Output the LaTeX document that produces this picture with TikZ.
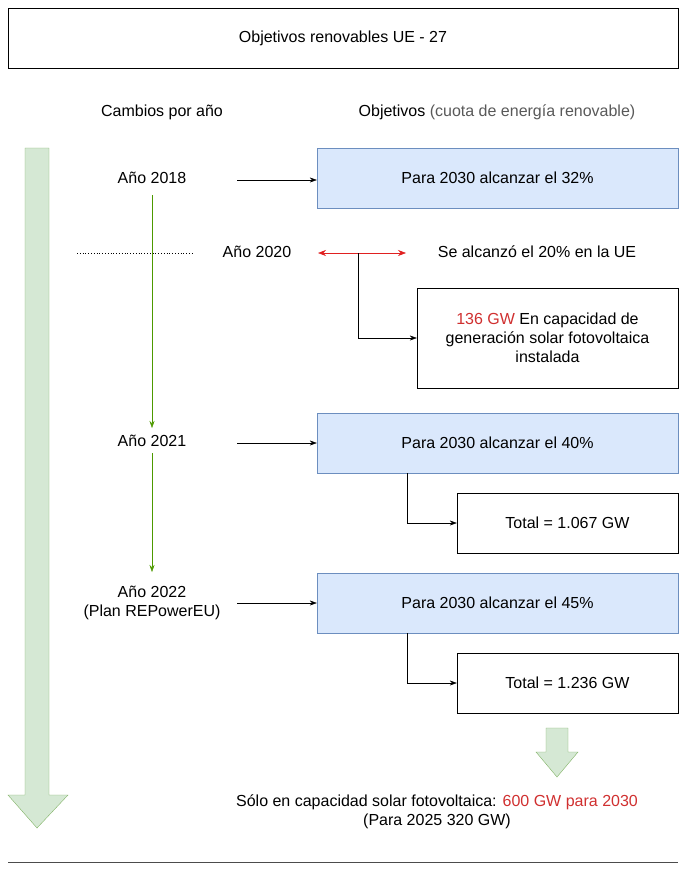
\documentclass[tikz,border=0pt]{standalone}
\usepackage{fontspec}
\setmainfont{Liberation Sans}
\usetikzlibrary{arrows.meta}
\definecolor{bfill}{HTML}{DAE8FC}\definecolor{bdraw}{HTML}{6C8EBF}
\definecolor{gfill}{HTML}{D5E8D4}\definecolor{gdraw}{HTML}{82B366}
\definecolor{gline}{HTML}{4D9900}\definecolor{rtext}{HTML}{D03030}
\definecolor{rline}{HTML}{E02020}
\tikzset{x=1pt,y=-1pt,
 txt/.style={font=\fontsize{16}{19}\selectfont,align=center,inner sep=0pt},
 bbox/.style={draw=bdraw,fill=bfill,txt},
 wbox/.style={draw=black,fill=white,txt},
 arr/.style={-{Stealth[length=7pt,width=5pt]},thin},
 garr/.style={gline,-{Stealth[length=7pt,width=5pt]},thin}}
\begin{document}
\begin{tikzpicture}
\useasboundingbox (0,0) rectangle (686,875);
\node[wbox,minimum width=670,minimum height=60] (title) at (343,38) {Objetivos renovables UE - 27};
\node[txt] (cambios) at (162,112) {Cambios por año};
\node[txt] (obj) at (497,112) {Objetivos {\color{black!65}(cuota de energía renovable)}};
% big arrow
\draw[gdraw,fill=gfill] (25,148) -- (49,148) -- (49,795) -- (68,795) -- (37,828) -- (8,795) -- (25,795) -- cycle;
% 2018
\node[txt] (a18) at (152,178) {Año 2018};
\node[bbox,minimum width=361,minimum height=60] (b1) at (497.5,178) {Para 2030 alcanzar el 32\%};
\coordinate (s18) at (237,180);
\draw[arr] (s18) -- (s18 -| b1.west);
% 2020
\draw[dotted,thick] (77,253) -- (192,253);
\node[txt] (a20) at (257,252) {Año 2020};
\node[txt] (se) at (537,252) {Se alcanzó el 20\% en la UE};
\coordinate (r1) at (318,253); \coordinate (r2) at (406,253);
\draw[rline,{Stealth[length=8pt,width=6pt]}-{Stealth[length=8pt,width=6pt]},semithick] (r1) -- (r2);
\node[wbox,minimum width=261,minimum height=100] (gw136) at (547.5,338) {{\color{rtext}136 GW} En capacidad de\\generación solar fotovoltaica\\instalada};
\coordinate (e1) at (358,253);
\draw[arr] (e1) |- (gw136.west);
% 2021
\node[txt] (a21) at (152,441) {Año 2021};
\node[bbox,minimum width=361,minimum height=60] (b2) at (497.5,443) {Para 2030 alcanzar el 40\%};
\coordinate (s21) at (237,443);
\draw[arr] (s21) -- (s21 -| b2.west);
\node[wbox,minimum width=221,minimum height=60] (t1) at (567.5,523) {Total = 1.067 GW};
\draw[arr] (b2.south -| 407,0) |- (t1.west);
% 2022
\node[txt] (a22) at (152,603) {Año 2022\\(Plan REPowerEU)};
\node[bbox,minimum width=361,minimum height=60] (b3) at (497.5,603) {Para 2030 alcanzar el 45\%};
\coordinate (s22) at (237,603);
\draw[arr] (s22) -- (s22 -| b3.west);
\node[wbox,minimum width=221,minimum height=60] (t2) at (567.5,683) {Total = 1.236 GW};
\draw[arr] (b3.south -| 407,0) |- (t2.west);
% green timeline
\draw[garr] (152,195) -- (152,428);
\draw[garr] (a21.south) ++(0,6) -- (152,572);
% small arrow
\draw[gdraw,fill=gfill] (546,728) -- (568,728) -- (568,752) -- (578,752) -- (557,777) -- (536,752) -- (546,752) -- cycle;
\node[txt] (solo) at (437,812) {Sólo en capacidad solar fotovoltaica: {\color{rtext}600 GW para 2030}\\(Para 2025 320 GW)};
\coordinate (l1) at (8,862); \coordinate (l2) at (678,862);
\draw[black!70] (l1) -- (l2);
\end{tikzpicture}
\end{document}
